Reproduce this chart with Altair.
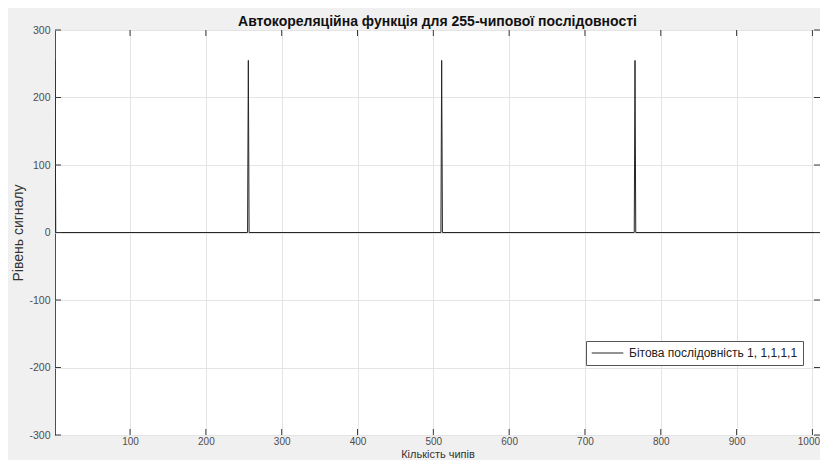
import altair as alt
import pandas as pd

# --- data ---
chips = [1, 2, 255, 256, 257, 510, 511, 512, 765, 766, 767, 1020]
level = [255, 0, 0, 255, 0, 0, 255, 0, 0, 255, 0, 0]
x_ticks = [100, 200, 300, 400, 500, 600, 700, 800, 900, 1000]
y_ticks = [-300, -200, -100, 0, 100, 200, 300]
series_name = "Бітова послідовність 1, 1,1,1,1"

title_text = "Автокореляційна функція для 255-чипової послідовності"
x_title = "Кількість чипів"
y_title = "Рівень сигналу"

W, H = 765, 405
FONT = "Liberation Sans"
TICK_LEN = 6
TICK_COLOR = "#3a3a3a"

df = pd.DataFrame({"chip": chips, "level": level, "series": [series_name] * len(chips)})
dx = pd.DataFrame({"chip": x_ticks})
dy = pd.DataFrame({"level": y_ticks})

x_scale = alt.Scale(domain=[1, 1010], nice=False, zero=False)
y_scale = alt.Scale(domain=[-300, 300], nice=False, zero=False)

x_axis = alt.Axis(values=x_ticks, grid=True, ticks=False, domain=False,
                  labelExpr="'' + datum.value", labelFlush=False,
                  labelOffset={"condition": {"test": "datum.value == 1000", "value": -4}, "value": 0},
                  labelPadding=1, labelFontSize=10, labelFont=FONT,
                  labelColor="#4d4d4d", gridColor="#e4e4e4",
                  titleFont=FONT, titleFontSize=11, titleFontWeight="normal",
                  titleColor="#333333", titleY=22, titleBaseline="alphabetic")
y_axis = alt.Axis(values=y_ticks, grid=True, ticks=False, domain=False,
                  labelExpr="'' + datum.value", labelFlush=False,
                  labelPadding=5, labelFontSize=10.5, labelFont=FONT,
                  labelColor="#4d4d4d", gridColor="#e4e4e4",
                  titleFont=FONT, titleFontSize=14, titleFontWeight="normal",
                  titleColor="#333333", titleX=-37, titleBaseline="middle")

line = alt.Chart(df).mark_line(strokeWidth=1, clip=True).encode(
    x=alt.X("chip:Q", scale=x_scale, axis=x_axis, title=x_title),
    y=alt.Y("level:Q", scale=y_scale, axis=y_axis, title=y_title),
    color=alt.Color("series:N", scale=alt.Scale(range=["#262626"]),
                    legend=alt.Legend(orient="none", legendX=531, legendY=311,
                                      title=None, fillColor="white",
                                      strokeColor="#555555", padding=5,
                                      clipHeight=14,
                                      symbolType="stroke", symbolSize=1000,
                                      symbolStrokeWidth=1, labelFontSize=12,
                                      labelFont=FONT, labelColor="#222222",
                                      labelLimit=400, labelOffset=5)),
)

xt_bottom = alt.Chart(dx).mark_rule(color=TICK_COLOR, strokeWidth=1).encode(
    x=alt.X("chip:Q", scale=x_scale, title=x_title),
    y=alt.value(H), y2=alt.value(H - TICK_LEN))
xt_top = alt.Chart(dx).mark_rule(color=TICK_COLOR, strokeWidth=1).encode(
    x=alt.X("chip:Q", scale=x_scale, title=x_title),
    y=alt.value(0), y2=alt.value(TICK_LEN))
yt_left = alt.Chart(dy).mark_rule(color=TICK_COLOR, strokeWidth=1).encode(
    y=alt.Y("level:Q", scale=y_scale, title=y_title),
    x=alt.value(0), x2=alt.value(TICK_LEN))
yt_right = alt.Chart(dy).mark_rule(color=TICK_COLOR, strokeWidth=1).encode(
    y=alt.Y("level:Q", scale=y_scale, title=y_title),
    x=alt.value(W), x2=alt.value(W - TICK_LEN))

chart = alt.layer(line, xt_bottom, xt_top, yt_left, yt_right).properties(
    width=W, height=H,
    autosize=alt.AutoSizeParams(type="none"),
    padding={"left": 47, "top": 22, "right": 0, "bottom": 25},
    background="#f0f0f0",
    title=alt.Title(title_text, font=FONT, fontSize=14, fontWeight="bold",
                    color="#111111", anchor="middle", offset=5, dy=9),
).configure_view(stroke="#4d4d4d", strokeWidth=1, fill="white")

chart.save("out.html", embed_options={"renderer": "svg", "actions": False})
